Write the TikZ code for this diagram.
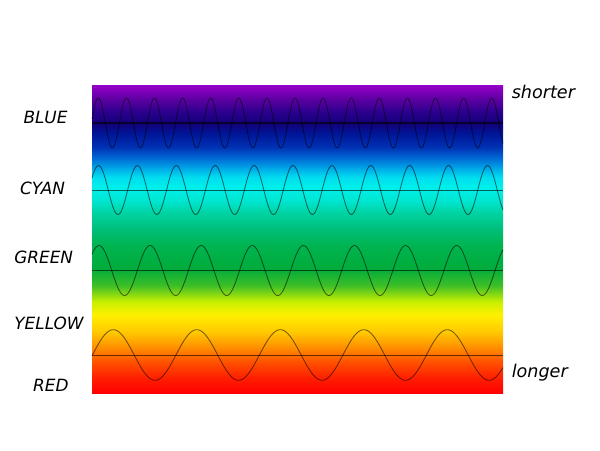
\documentclass[tikz,border=0pt]{standalone}
\usepackage{fontspec}
\setmainfont{DejaVu Sans}
\usetikzlibrary{positioning}

\definecolor{specred}{RGB}{255,0,0}
\definecolor{specredorange}{RGB}{255,30,0}
\definecolor{specorangered}{RGB}{255,80,0}
\definecolor{specorange}{RGB}{255,140,0}
\definecolor{specamber}{RGB}{255,200,0}
\definecolor{specyellow}{RGB}{255,240,0}
\definecolor{speclime}{RGB}{200,240,0}
\definecolor{speclightgreen}{RGB}{60,190,40}
\definecolor{specgreen}{RGB}{0,172,60}
\definecolor{specgreenb}{RGB}{0,180,80}
\definecolor{specteal}{RGB}{0,190,120}
\definecolor{specturq}{RGB}{0,210,160}
\definecolor{specaqua}{RGB}{0,230,210}
\definecolor{speccyan}{RGB}{0,240,235}
\definecolor{specsky}{RGB}{0,220,240}
\definecolor{speclightblue}{RGB}{0,160,230}
\definecolor{specmidblue}{RGB}{0,100,210}
\definecolor{specblue}{RGB}{0,50,180}
\definecolor{specdeepblue}{RGB}{0,20,150}
\definecolor{specnavy}{RGB}{20,0,120}
\definecolor{specindigo}{RGB}{40,0,140}
\definecolor{specviolet}{RGB}{90,0,160}
\definecolor{specpurple}{RGB}{150,0,200}

\pgfdeclareverticalshading{spectrum}{100bp}{%
  color(0bp)=(specred); color(25bp)=(specred);
  color(27.4bp)=(specredorange); color(30bp)=(specorangered);
  color(32.3bp)=(specorange); color(34.9bp)=(specamber);
  color(37.7bp)=(specyellow); color(39.8bp)=(speclime);
  color(42.5bp)=(speclightgreen); color(45.3bp)=(specgreen);
  color(49bp)=(specgreenb); color(51.5bp)=(specteal);
  color(54.2bp)=(specturq); color(56.3bp)=(specaqua);
  color(58.4bp)=(speccyan); color(60.1bp)=(specsky);
  color(61.7bp)=(speclightblue); color(63.3bp)=(specmidblue);
  color(64.9bp)=(specblue); color(67.2bp)=(specdeepblue);
  color(68.8bp)=(specnavy); color(70.5bp)=(specindigo);
  color(72.6bp)=(specviolet); color(75bp)=(specpurple);
  color(100bp)=(specpurple)}

\begin{document}
\begin{tikzpicture}[
    x=0.025cm, y=-0.025cm,
    wave/.style={black, opacity=0.55, line width=0.6pt},
    axisline/.style={black, opacity=0.6, line width=0.6pt},
    colourlabel/.style={inner sep=0pt, font=\fontsize{12}{14}\selectfont\itshape},
    sidelabel/.style={colourlabel, font=\fontsize{12.5}{14}\selectfont\itshape, anchor=west},
  ]
  \useasboundingbox (0,0) rectangle (600,450);
  \shade[shading=spectrum] (92,85) rectangle (503,393);
  % baseline y / amplitude / wavelength / first crest x / axis width
  \foreach \yb/\amp/\lam/\xp/\lw in {123/25/28.1/98.3/1.4pt, 190/24.5/38.9/98.5/0.6pt, 270.5/25/51.1/99/0.7pt, 355/25.3/83.5/113.3/0.7pt} {
    \draw[axisline, line width=\lw] (92,\yb) -- (503,\yb);
    \draw[wave] plot[domain=92:503, samples=400, smooth] (\x, {\yb - \amp*cos(((\x-\xp)/\lam)*360)});
  }
  \node[colourlabel] (blue) at (45.5,117) {BLUE};
  \node[colourlabel] (cyan) at (42.5,188) {CYAN};
  \node[colourlabel] (green) at (43.7,257.5) {GREEN};
  \node[colourlabel] (yellow) at (49,323) {YELLOW};
  \node[colourlabel] (red) at (50.8,385) {RED};
  \node[sidelabel] (shorter) at (511.5,92) {shorter};
  \node[sidelabel] (longer) at (511.5,373) {longer};
\end{tikzpicture}
\end{document}
